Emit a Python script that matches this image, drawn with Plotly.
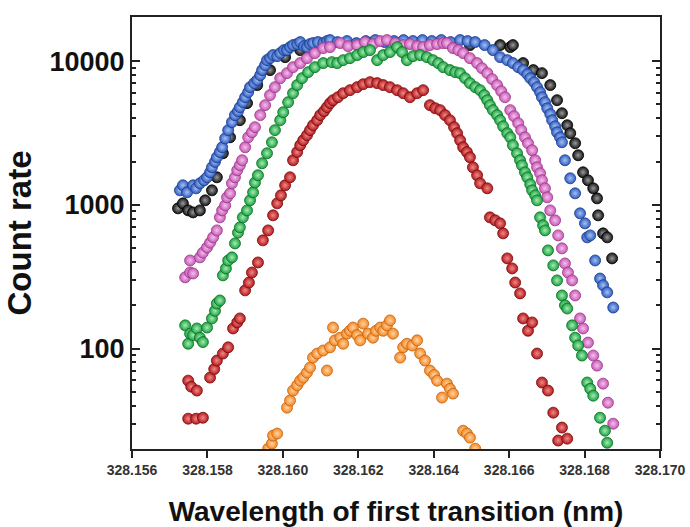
import plotly.graph_objects as go

black_x = [328.15722, 328.15735, 328.15749, 328.15762, 328.15780, 328.15794, 328.15812, 328.15825, 328.15841, 328.15860,
           328.15886, 328.15905, 328.15932, 328.15966, 328.16006, 328.16046, 328.16125, 328.16231, 328.16364, 328.16496,
           328.16576, 328.16603, 328.16610, 328.16637, 328.16664, 328.16687, 328.16709, 328.16727, 328.16740, 328.16754,
           328.16762, 328.16775, 328.16783, 328.16796, 328.16809, 328.16823, 328.16833, 328.16836, 328.16849, 328.16860,
           328.16873]
black_y = [945, 1024, 915, 886, 915, 1075, 1262, 1555, 2285, 2950,
           3880, 5100, 6810, 8660, 10660, 11930, 12930, 13350, 13350, 12930,
           12930, 12520, 12930, 9690, 8660, 8250, 6810, 5350, 4340, 3580,
           3150, 2683, 2213, 1685, 1482, 1303, 1110, 845, 633, 594,
           424]

blue_x = [328.15727, 328.15735, 328.15746, 328.15762, 328.15770, 328.15780, 328.15791, 328.15799, 328.15807, 328.15812,
          328.15820, 328.15825, 328.15833, 328.15839, 328.15847, 328.15855, 328.15865, 328.15873, 328.15881, 328.15886,
          328.15894, 328.15900, 328.15908, 328.15913, 328.15924, 328.15932, 328.15940, 328.15945, 328.15953, 328.15958,
          328.15966, 328.15974, 328.15985, 328.15993, 328.16003, 328.16011, 328.16019, 328.16027, 328.16038, 328.16046,
          328.16056, 328.16064, 328.16072, 328.16080, 328.16093, 328.16107, 328.16117, 328.16125, 328.16145, 328.16170,
          328.16195, 328.16220, 328.16245, 328.16270, 328.16295, 328.16320, 328.16345, 328.16370, 328.16395, 328.16420,
          328.16445, 328.16470, 328.16490, 328.16510, 328.16535, 328.16557, 328.16576, 328.16595, 328.16610, 328.16624,
          328.16637, 328.16648, 328.16656, 328.16666, 328.16674, 328.16682, 328.16687, 328.16695, 328.16701, 328.16709,
          328.16714, 328.16722, 328.16727, 328.16735, 328.16740, 328.16748, 328.16762, 328.16775, 328.16788, 328.16801,
          328.16807, 328.16815, 328.16828, 328.16841, 328.16849, 328.16860, 328.16876]
blue_y = [1262, 1368, 1222, 1368, 1303, 1412, 1482, 1555, 1685, 1825,
          1990, 2143, 2330, 2516, 2900, 3310, 3760, 4210, 4480, 4780,
          5180, 5610, 6080, 6590, 7030, 7370, 7990, 8660, 9380, 10160,
          10490, 11010, 10830, 11370, 11930, 11930, 12520, 12930, 13140, 13570,
          12720, 12520, 13140, 13350, 13570, 13350, 13790, 14010, 13570, 13790,
          13350, 13790, 14010, 13570, 13790, 14010, 13790, 14010, 13790, 14010,
          13570, 14010, 13790, 13570, 12930, 11930, 10660, 10160, 9690, 9080,
          8660, 8120, 7610, 7140, 6590, 6080, 5610, 5180, 4700, 4280,
          3880, 3520, 3200, 2950, 2725, 2043, 1530, 1203, 873, 743,
          594, 613, 410, 307, 276, 246, 193]

magenta_x = [328.15741, 328.15754, 328.15762, 328.15754, 328.15780, 328.15788, 328.15799, 328.15807, 328.15815, 328.15825,
             328.15833, 328.15839, 328.15847, 328.15852, 328.15860, 328.15865, 328.15873, 328.15879, 328.15886, 328.15892,
             328.15900, 328.15908, 328.15918, 328.15926, 328.15940, 328.15953, 328.15966, 328.15979, 328.15993, 328.16011,
             328.16027, 328.16046, 328.16064, 328.16085, 328.16107, 328.16125, 328.16152, 328.16173, 328.16197, 328.16218,
             328.16239, 328.16258, 328.16276, 328.16298, 328.16319, 328.16337, 328.16356, 328.16372, 328.16390, 328.16409,
             328.16425, 328.16435, 328.16451, 328.16465, 328.16478, 328.16496, 328.16515, 328.16528, 328.16542, 328.16555,
             328.16568, 328.16579, 328.16589, 328.16603, 328.16613, 328.16624, 328.16632, 328.16642, 328.16650, 328.16661,
             328.16669, 328.16674, 328.16682, 328.16687, 328.16695, 328.16701, 328.16709, 328.16722, 328.16730, 328.16740,
             328.16748, 328.16756, 328.16767, 328.16775, 328.16788, 328.16796, 328.16809, 328.16823, 328.16833, 328.16849,
             328.16862, 328.16876]
magenta_y = [313, 338, 333, 410, 431, 465, 505, 545, 594, 664,
             818, 915, 990, 1128, 1203, 1412, 1555, 1740, 1885, 2043,
             2516, 2950, 3200, 3470, 4210, 4940, 5800, 6590, 7610, 8250,
             9080, 9690, 10490, 11370, 12320, 12520, 13350, 12720, 12930, 13570,
             13140, 13790, 14010, 13350, 12930, 13140, 12720, 12520, 12930, 13140,
             13350, 13350, 12320, 11930, 11370, 10490, 9690, 8930, 8250, 7490,
             6810, 6180, 5610, 4560, 4140, 3700, 3310, 2950, 2683, 2398,
             2043, 1825, 1660, 1482, 1303, 1128, 915, 780, 613, 498,
             391, 338, 298, 234, 162, 138, 110, 89.4, 76.1, 57.0,
             42.0, 30.0]

green_x = [328.15741, 328.15749, 328.15754, 328.15762, 328.15772, 328.15780, 328.15788, 328.15799, 328.15812, 328.15820,
           328.15825, 328.15833, 328.15841, 328.15849, 328.15855, 328.15865, 328.15873, 328.15881, 328.15886, 328.15894,
           328.15905, 328.15913, 328.15921, 328.15926, 328.15934, 328.15945, 328.15958, 328.15971, 328.15979, 328.15993,
           328.16001, 328.16014, 328.16027, 328.16038, 328.16051, 328.16067, 328.16085, 328.16107, 328.16130, 328.16144,
           328.16160, 328.16178, 328.16197, 328.16213, 328.16231, 328.16250, 328.16266, 328.16284, 328.16303, 328.16316,
           328.16329, 328.16345, 328.16364, 328.16382, 328.16398, 328.16412, 328.16425, 328.16443, 328.16457, 328.16470,
           328.16483, 328.16496, 328.16510, 328.16523, 328.16534, 328.16542, 328.16549, 328.16557, 328.16568, 328.16576,
           328.16584, 328.16595, 328.16603, 328.16610, 328.16621, 328.16629, 328.16634, 328.16642, 328.16648, 328.16656,
           328.16661, 328.16669, 328.16674, 328.16682, 328.16690, 328.16695, 328.16703, 328.16717, 328.16727, 328.16740,
           328.16748, 328.16754, 328.16767, 328.16775, 328.16783, 328.16793, 328.16807, 328.16815, 328.16823, 328.16841,
           328.16854, 328.16860]
green_y = [145, 108, 127, 124, 138, 119, 111, 140, 162, 183,
           206, 216, 323, 361, 410, 431, 539, 640, 697, 818,
           915, 1075, 1222, 1430, 1606, 1946, 2285, 2725, 3310, 3880,
           4410, 5180, 5980, 6810, 7610, 8380, 9080, 9690, 9840, 9690,
           10160, 10490, 11010, 11560, 11930, 10160, 11010, 11560, 12520, 11560,
           10160, 10830, 11010, 10660, 10160, 9690, 9080, 8660, 8380, 8250,
           7610, 7030, 6590, 6280, 5800, 5350, 4940, 4560, 4210, 3880,
           3520, 3150, 2950, 2598, 2285, 2043, 1885, 1685, 1555, 1390,
           1262, 1165, 1075, 818, 720, 664, 482, 379, 298, 234,
           200, 190, 145, 119, 105, 89.4, 58.0, 52.5, 47.0, 33.0,
           26.8, 22.1]

red_x = [328.15749, 328.15757, 328.15772, 328.15749, 328.15770, 328.15788, 328.15807, 328.15818, 328.15825, 328.15841,
         328.15855, 328.15868, 328.15879, 328.15886, 328.15900, 328.15910, 328.15918, 328.15934, 328.15947, 328.15961,
         328.15974, 328.15985, 328.15995, 328.16006, 328.16019, 328.16027, 328.16038, 328.16046, 328.16054, 328.16064,
         328.16072, 328.16080, 328.16091, 328.16099, 328.16109, 328.16117, 328.16125, 328.16133, 328.16146, 328.16160,
         328.16178, 328.16197, 328.16213, 328.16231, 328.16250, 328.16266, 328.16284, 328.16303, 328.16319, 328.16337,
         328.16356, 328.16372, 328.16390, 328.16404, 328.16417, 328.16430, 328.16443, 328.16454, 328.16462, 328.16470,
         328.16478, 328.16488, 328.16496, 328.16504, 328.16515, 328.16523, 328.16542, 328.16549, 328.16563, 328.16576,
         328.16584, 328.16595, 328.16608, 328.16616, 328.16629, 328.16637, 328.16650, 328.16661, 328.16674, 328.16687,
         328.16703, 328.16717, 328.16730, 328.16740, 328.16754]
red_y = [59.8, 54.3, 51.0, 32.5, 32.5, 33.0, 62.8, 72, 82.5, 92.3,
         102, 138, 152, 162, 254, 288, 338, 397, 566, 664,
         845, 1024, 1165, 1368, 1555, 2043, 2330, 2598, 2815, 3050,
         3310, 3580, 3880, 4210, 4480, 4780, 5100, 5350, 5610, 5980,
         6280, 6590, 6910, 7140, 7030, 6810, 6590, 6280, 5980, 5610,
         5980, 6280, 4940, 4700, 4560, 4210, 3880, 3470, 3150, 2815,
         2516, 2330, 2143, 1825, 1606, 1412, 1303, 818, 780, 743,
         633, 424, 361, 288, 242, 162, 133, 152, 92.3, 58.0,
         51.0, 35.8, 22.9, 28.2, 23.6]

orange_x = [328.15961, 328.15971, 328.15974, 328.15985, 328.16011, 328.16019, 328.16027, 328.16038, 328.16046, 328.16054,
            328.16064, 328.16072, 328.16080, 328.16091, 328.16107, 328.16117, 328.16125, 328.16133, 328.16138, 328.16152,
            328.16160, 328.16170, 328.16178, 328.16186, 328.16197, 328.16205, 328.16213, 328.16226, 328.16239, 328.16247,
            328.16258, 328.16266, 328.16276, 328.16284, 328.16292, 328.16311, 328.16319, 328.16329, 328.16343, 328.16356,
            328.16364, 328.16377, 328.16390, 328.16401, 328.16409, 328.16422, 328.16435, 328.16443, 328.16451, 328.16478,
            328.16488, 328.16496, 328.16510]
orange_y = [20.1, 21.8, 24.8, 25.6, 38.8, 43.5, 51.0, 55.5, 59.8, 62.8,
            68, 73.7, 86.5, 92.3, 96.9, 70.3, 102, 140, 114, 119,
            108, 127, 133, 140, 124, 114, 149, 127, 119, 133,
            140, 133, 145, 157, 127, 86.5, 102, 108, 105, 114,
            92.3, 82.5, 70.3, 65.5, 59.8, 45.6, 57.0, 52.5, 48.6, 26.8,
            25.6, 24.0, 20.1]

x_ticks = [328.156, 328.158, 328.160, 328.162, 328.164, 328.166, 328.168, 328.170]
y_ticks = [100, 1000, 10000]
y_minor = [30, 40, 50, 60, 70, 80, 90, 200, 300, 400, 500, 600, 700, 800, 900,
           2000, 3000, 4000, 5000, 6000, 7000, 8000, 9000]

series = [
    (black_x, black_y, "#151515", "#9a9a9a", "#000000"),
    (blue_x, blue_y, "#2d5cc4", "#a8c0f0", "#1c3e8c"),
    (magenta_x, magenta_y, "#c956b6", "#f2c2ea", "#983a88"),
    (green_x, green_y, "#18a23c", "#a8eab8", "#0c6e26"),
    (red_x, red_y, "#b3191b", "#f08a8a", "#7c0c0e"),
    (orange_x, orange_y, "#f5861f", "#ffd5a8", "#c46410"),
]

fig = go.Figure()
for xs, ys, col, hi, edge in series:
    fig.add_trace(go.Scatter(
        x=xs, y=ys, mode="markers",
        marker=dict(size=11, color=col,
                    gradient=dict(type="radial", color=hi),
                    line=dict(width=0.8, color=edge)),
        showlegend=False,
    ))

font_family = "Liberation Sans"

fig.update_layout(
    width=690, height=527,
    margin=dict(l=132, r=30, t=17, b=78),
    paper_bgcolor="white", plot_bgcolor="white",
    font=dict(family=font_family, color="#1a1a1a"),
)
fig.update_xaxes(
    range=[328.156, 328.170], automargin=False,
    tickvals=x_ticks, ticktext=[f"{v:.3f}" for v in x_ticks],
    ticks="outside", ticklen=7, tickwidth=2, tickcolor="#222",
    showline=True, linewidth=2, linecolor="#222", mirror=True,
    showgrid=False, zeroline=False,
    tickfont=dict(size=14, family=font_family, weight="bold", color="#333"),
    title=dict(text="Wavelength of first transition (nm)",
               font=dict(size=28, family=font_family, weight="bold", color="#111"),
               standoff=28),
)
fig.update_yaxes(
    type="log", range=[1.301, 4.307], automargin=False,
    tickvals=y_ticks, ticktext=[str(v) for v in y_ticks],
    ticks="inside", ticklen=8, tickwidth=2, tickcolor="#222",
    minor=dict(tickvals=y_minor, ticks="inside", ticklen=4, tickwidth=1.5, tickcolor="#222"),
    showline=True, linewidth=2, linecolor="#222", mirror="ticks",
    showgrid=False, zeroline=False,
    tickfont=dict(size=27, family=font_family, weight="bold", color="#111"),
    title=dict(text="Count rate",
               font=dict(size=33, family=font_family, weight="bold", color="#111"),
               standoff=8),
)

fig.write_html("out.html")
